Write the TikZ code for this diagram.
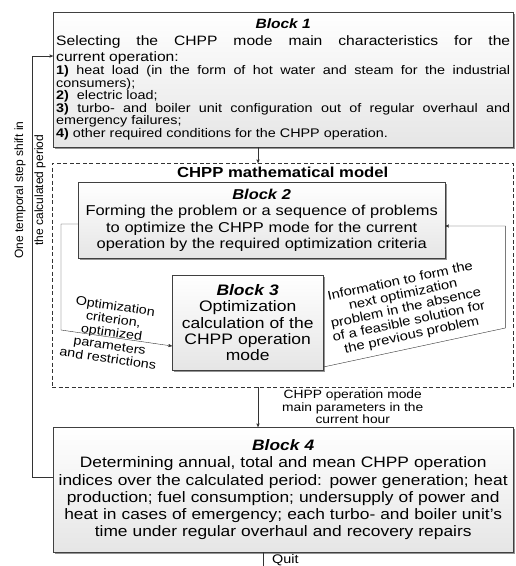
\documentclass[tikz,border=0pt]{standalone}
\usepackage{fontspec}
\setmainfont{Liberation Sans}[FakeStretch=1.15]
\newfontfamily\uprightsans{Liberation Sans}
\usetikzlibrary{positioning, arrows, shadows}
\tikzset{>=stealth', line width=0.65pt,
  block/.style={draw=black!75, top color=white, bottom color=black!10,
    drop shadow={shadow xshift=1.4pt, shadow yshift=-1.4pt, fill=black!60, opacity=0.7},
    inner sep=3pt, anchor=north west},
  link/.style={draw=black!80},
  note/.style={font=\fontsize{12.5}{13.2}\selectfont, align=center, inner sep=0pt},
  modelbox/.style={draw=black!80, dash pattern=on 4pt off 2.5pt, anchor=north west, inner sep=0pt}
}
\newcommand{\blocktitle}[1]{{\bfseries\itshape #1}}

\begin{document}
\begin{tikzpicture}[x=1pt, y=-1pt]
  \useasboundingbox (0,0) rectangle (516,566);
  \coordinate (axis) at (258,0);
  \coordinate (out) at (263,566);

  \node[modelbox, minimum width=461pt, minimum height=224pt] (model) at (52,163) {};
  \node[below=3pt of model.north, font=\fontsize{14.5}{16}\selectfont\bfseries, inner sep=1pt] (mtitle) {CHPP mathematical model};

  \node[block, text width=454pt, minimum width=460pt, minimum height=135pt, align=justify] (blk1) at (53,12) {%
    \centerline{\fontsize{13.5}{16}\selectfont\blocktitle{Block 1}}
    \fontsize{13.6}{16.5}\selectfont Selecting the CHPP mode main characteristics for the\linebreak current operation:\par
    \fontsize{12.5}{12.6}\selectfont\textbf{1)} heat load (in the form of hot water and steam for the industrial\linebreak consumers);\par
    \textbf{2)}\ \ electric load;\par
    \textbf{3)} turbo- and boiler unit configuration out of regular overhaul and\linebreak emergency failures;\par
    \textbf{4)} other required conditions for the CHPP operation.\par};
  \node[block, text width=361pt, minimum width=367pt, minimum height=76pt, align=center, font=\fontsize{14.3}{16.5}\selectfont] (blk2) at (78,182) {\blocktitle{Block 2}\\ Forming the problem or a sequence of problems\\ to optimize the CHPP mode for the current\\ operation by the required optimization criteria};
  \node[block, text width=145pt, minimum width=151pt, minimum height=95pt, align=center, font=\fontsize{15.2}{16.4}\selectfont] (blk3) at (172,275) {\blocktitle{Block 3}\\ Optimization\\ calculation of the\\ CHPP operation\\ mode};
  \node[block, text width=454pt, minimum width=460pt, minimum height=125pt, align=center, font=\fontsize{15.1}{17.2}\selectfont] (blk4) at (53,427) {\blocktitle{Block 4}\\ Determining annual, total and mean CHPP operation\\ indices over the calculated period: power generation; heat\\ production; fuel consumption; undersupply of power and\\ heat in cases of emergency; each turbo- and boiler unit's\\ time under regular overhaul and recovery repairs};

  \node[rotate=90, font=\uprightsans\fontsize{12}{12}\selectfont, align=center, inner sep=0pt] (shift) at (30,190) {One temporal step shift in\\[8pt] the calculated period};
  \node[anchor=west, font=\fontsize{12.5}{13}\selectfont, inner sep=0pt] (quit) at (272,560) {Quit};

  \draw[link, ->] ([yshift=-50pt]blk4.north west) -- ++(-21,0) |- ([yshift=-44pt]blk1.north west);
  \draw[link, ->] (blk1.south -| axis) -- (model.north -| axis);
  \draw[link, ->] (model.south -| axis) -- (blk4.north -| axis)
    node[midway, right=24pt, note, font=\fontsize{12}{12.5}\selectfont] (hour) {CHPP operation mode\\ main parameters in the\\ current hour};
  \draw[link, ->] ([yshift=-42pt]blk2.north west) -- ++(-17,0) -- ++(0,106)
    -- node[pos=0.45, sloped, note, yshift=5pt] (crit) {Optimization\\ criterion,\\ optimized\\ parameters\\ and restrictions} ([yshift=-71pt]blk3.north west);
  \draw[link, ->] ([yshift=-92pt]blk3.north east)
    -- node[midway, sloped, above=6pt, note, font=\fontsize{12.8}{13.8}\selectfont] (info) {Information to form the\\ next optimization\\ problem in the absence\\ of a feasible solution for\\ the previous problem} ++(182,-39)
    |- ([yshift=-44pt]blk2.north east);
  \draw[link] (blk4.south -| out) -- (out);
\end{tikzpicture}
\end{document}
